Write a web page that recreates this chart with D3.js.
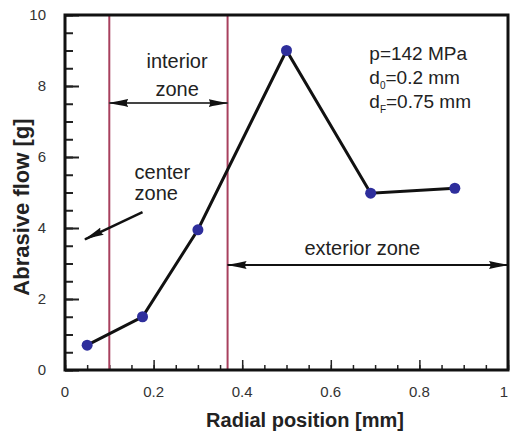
<!DOCTYPE html>
<html>
<head>
<meta charset="utf-8">
<script src="https://cdn.jsdelivr.net/npm/d3@7"></script>
<style>
  body { margin: 0; background: #fff; }
  text { font-family: "Liberation Sans", Arial, sans-serif; }
</style>
</head>
<body>
<svg id="chart" width="510" height="439"></svg>
<script>
var radial = [0.05, 0.175, 0.3, 0.5, 0.69, 0.88];
var flow = [0.7, 1.5, 3.95, 9.0, 4.98, 5.12];
var xTicks = [0, 0.2, 0.4, 0.6, 0.8, 1];
var yTicks = [0, 2, 4, 6, 8, 10];
var zoneBounds = [0.1, 0.367];
var notes = ["p=142 MPa", "d|0|=0.2 mm", "d|F|=0.75 mm"];

var svg = d3.select("#chart"),
    margin = {top: 15, right: 2, bottom: 69, left: 65},
    width = +svg.attr("width") - margin.left - margin.right,
    height = +svg.attr("height") - margin.top - margin.bottom,
    g = svg.append("g").attr("transform", "translate(" + margin.left + "," + margin.top + ")");

var x = d3.scaleLinear().domain([0, 1]).range([0, width]);
var y = d3.scaleLinear().domain([0, 10]).range([height, 0]);

// arrow head, fixed pixel size
svg.append("defs").append("marker").attr("id", "ah")
    .attr("viewBox", "0 0 20 10").attr("refX", 19).attr("refY", 5)
    .attr("markerWidth", 20).attr("markerHeight", 10)
    .attr("markerUnits", "userSpaceOnUse").attr("orient", "auto-start-reverse")
    .append("path").attr("d", "M0,1 Q6,2.5 20,5 Q6,7.5 0,9 Q3,5 0,1 Z").attr("fill", "#111");

// minor and major ticks pointing inward
function tickStyle(a, w) {
    a.select(".domain").remove();
    a.selectAll("line").attr("stroke", "#222").attr("stroke-width", w);
}
g.append("g").attr("transform", "translate(0," + height + ")")
    .call(d3.axisTop(x).tickValues(d3.range(0, 1.0001, 0.05)).tickSize(5).tickFormat(""))
    .call(tickStyle, 1.5);
g.append("g").attr("transform", "translate(0," + height + ")")
    .call(d3.axisTop(x).tickValues(xTicks).tickSize(10).tickFormat(""))
    .call(tickStyle, 1.5);
g.append("g")
    .call(d3.axisRight(y).tickValues(d3.range(0, 10.0001, 0.5)).tickSize(8).tickFormat(""))
    .call(tickStyle, 2);
g.append("g")
    .call(d3.axisRight(y).tickValues(yTicks).tickSize(14).tickFormat(""))
    .call(tickStyle, 2);

// tick labels
g.append("g").selectAll("text").data(xTicks).enter().append("text")
    .attr("x", function(d){ return d === 1 ? x(d) - 4 : x(d); }).attr("y", height + 27)
    .attr("text-anchor", "middle").attr("font-size", 15).attr("fill", "#333")
    .text(function(d){ return d; });
g.append("g").selectAll("text").data(yTicks).enter().append("text")
    .attr("x", -19).attr("y", function(d){ return y(d) + 5; })
    .attr("text-anchor", "end").attr("font-size", 15).attr("fill", "#333")
    .text(function(d){ return d; });

// zone boundaries
g.selectAll(".zone").data(zoneBounds).enter().append("line")
    .attr("x1", function(d){ return x(d); }).attr("x2", function(d){ return x(d); })
    .attr("y1", 0).attr("y2", height)
    .attr("stroke", "#a8405e").attr("stroke-width", 2);

// frame
g.append("rect").attr("width", width).attr("height", height)
    .attr("fill", "none").attr("stroke", "#111").attr("stroke-width", 3);

// arrows
g.append("line").attr("x1", x(zoneBounds[0])).attr("x2", x(zoneBounds[1]))
    .attr("y1", y(7.52)).attr("y2", y(7.52))
    .attr("stroke", "#444").attr("stroke-width", 2)
    .attr("marker-start", "url(#ah)").attr("marker-end", "url(#ah)");
g.append("line").attr("x1", x(zoneBounds[1])).attr("x2", x(1))
    .attr("y1", y(2.96)).attr("y2", y(2.96))
    .attr("stroke", "#111").attr("stroke-width", 2)
    .attr("marker-start", "url(#ah)").attr("marker-end", "url(#ah)");
g.append("line").attr("x1", x(0.175)).attr("x2", x(0.045))
    .attr("y1", y(4.45)).attr("y2", y(3.68))
    .attr("stroke", "#111").attr("stroke-width", 2.5)
    .attr("marker-end", "url(#ah)");

// zone labels
var zl = g.append("g").attr("font-size", 20).attr("fill", "#222");
zl.append("text").attr("x", x(0.253)).attr("y", y(8.51)).attr("text-anchor", "middle").text("interior");
zl.append("text").attr("x", x(0.253)).attr("y", y(7.72)).attr("text-anchor", "middle").text("zone");
zl.append("text").attr("x", x(0.157)).attr("y", y(5.38)).text("center");
zl.append("text").attr("x", x(0.157)).attr("y", y(4.8)).text("zone");
zl.append("text").attr("x", x(0.671)).attr("y", y(3.24)).attr("text-anchor", "middle").text("exterior zone");

// parameter notes
var nt = g.append("g").attr("font-size", 19).attr("fill", "#222");
notes.forEach(function(s, i){
    var parts = s.split("|");
    var t = nt.append("text").attr("x", x(0.687)).attr("y", 45 + i * 24);
    t.append("tspan").text(parts[0]);
    if (parts.length > 1) {
        t.append("tspan").attr("font-size", 10).attr("dy", 5).text(parts[1]);
        t.append("tspan").attr("dy", -5).text(parts[2]);
    }
});

// data line and points
var pts = radial.map(function(r, i){ return [r, flow[i]]; });
g.append("path").datum(pts)
    .attr("fill", "none").attr("stroke", "#111").attr("stroke-width", 3)
    .attr("d", d3.line().x(function(d){ return x(d[0]); }).y(function(d){ return y(d[1]); }));
g.selectAll(".pt").data(pts).enter().append("circle")
    .attr("cx", function(d){ return x(d[0]); }).attr("cy", function(d){ return y(d[1]); })
    .attr("r", 5.5).attr("fill", "#2e2e9c");

// axis titles
svg.append("text").attr("x", 305).attr("y", 427)
    .attr("text-anchor", "middle").attr("font-size", 20).attr("font-weight", "bold").attr("fill", "#222")
    .text("Radial position [mm]");
svg.append("text").attr("transform", "translate(29,207) rotate(-90)")
    .attr("text-anchor", "middle").attr("font-size", 22).attr("font-weight", "bold").attr("fill", "#222")
    .text("Abrasive flow [g]");
</script>
</body>
</html>
